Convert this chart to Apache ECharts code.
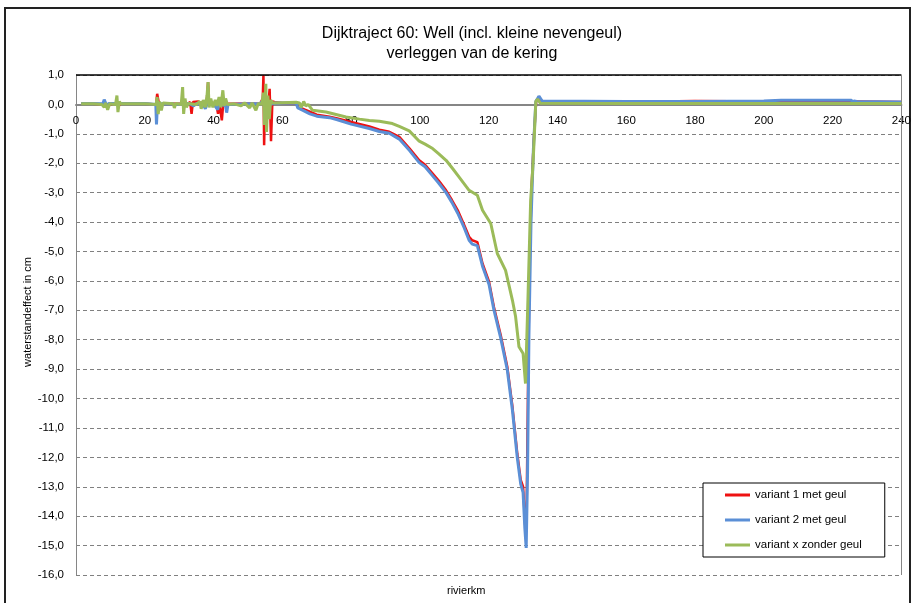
<!DOCTYPE html>
<html>
<head>
<meta charset="utf-8">
<script src="https://cdn.jsdelivr.net/npm/echarts@6/dist/echarts.min.js"></script>
<style>html,body{margin:0;padding:0;background:#fff}#c{width:914px;height:603px}</style>
</head>
<body>
<div id="c"></div>
<script>
// ---- data ----
const seriesNames = ['variant 1 met geul', 'variant 2 met geul', 'variant x zonder geul'];
const xTicks = { min: 0, max: 240, interval: 20 };
const yTicks = { min: -16, max: 1, interval: 1 };

const km1 = [1.5,4,7.8,8.3,8.8,12,12.3,13,20,23.3,23.6,24.0,24.5,25.5,30.8,31.1,31.5,32.5,33.2,33.6,34.0,35.5,36.5,37.2,38.0,38.4,38.7,40,40.8,41.3,41.7,42.1,42.4,42.8,43.2,44,50,53.5,54.3,54.5,54.7,55.0,55.5,56.0,56.3,56.7,57.1,57.7,60,64,64.5,66,68,70,73.7,76,80,85.3,88.2,91.1,94,97,99.8,101.5,103.7,105.5,107.6,109.3,111,112.9,114.3,115.2,116.7,118.2,120.1,121.5,123.5,125.4,126.9,128.3,129.3,130.0,130.6,131.0,131.4,131.8,132.4,133.2,133.8,134.6,135.5,150,170,180,200,220,227,240];
const val1 = [0.02,0.03,0.0,0.1,-0.02,0.05,-0.05,0.02,0.02,0.0,0.36,0.1,-0.05,0.03,0.02,0.15,-0.05,0.03,0.08,-0.32,0.08,0.1,0.05,0.1,0.05,0.76,0.0,0.05,0.0,-0.32,0.05,-0.3,-0.54,0.0,0.1,0.02,0.03,0.02,0.2,1.0,-1.39,0.3,-0.2,0.1,0.53,-1.25,0.1,0.08,0.05,0.05,-0.1,-0.15,-0.25,-0.35,-0.42,-0.48,-0.6,-0.75,-0.86,-0.93,-1.1,-1.5,-1.9,-2.05,-2.35,-2.6,-2.92,-3.25,-3.6,-4.11,-4.5,-4.62,-4.68,-5.41,-6.03,-6.88,-7.85,-8.92,-10.28,-11.87,-12.77,-13.0,-14.3,-14.0,-10.0,-6.0,-3.0,-1.0,0.1,0.25,0.1,0.1,0.1,0.12,0.1,0.1,0.1,0.08];

const km2 = [1.5,4,7.8,8.2,8.6,9.0,9.5,20,23.2,23.4,23.7,24.5,28.2,28.5,28.8,33,34.2,35,37,37.6,38.2,40,41.2,41.6,43.5,43.8,44.2,50,53.5,54.5,55,55.6,56.5,58,64,64.5,66,68,70,73.7,76,80,85.3,88.2,91.1,94,97,99.8,101.5,103.7,105.5,107.6,109.3,111,112.9,114.3,115.2,116.7,118.2,120.1,121.5,123.5,125.4,126.9,128.3,129.3,130.0,130.5,130.9,131.3,131.7,132.3,133.0,133.7,134.6,135.5,160,180,200,205,220,225.5,225.8,226.2,227,240];
const val2 = [0.03,0.03,0.02,0.16,0.05,-0.08,0.03,0.03,0.0,-0.68,0.05,0.02,0.02,0.08,0.0,0.03,-0.05,0.03,0.0,-0.15,0.05,0.02,-0.18,0.02,-0.05,-0.28,0.0,0.02,0.02,0.15,-0.3,0.1,0.0,0.05,0.05,-0.12,-0.2,-0.32,-0.4,-0.45,-0.52,-0.67,-0.82,-0.92,-0.98,-1.18,-1.57,-1.98,-2.12,-2.43,-2.68,-3.0,-3.33,-3.7,-4.2,-4.62,-4.75,-4.8,-5.5,-6.12,-6.98,-7.95,-9.02,-10.4,-12.0,-12.9,-13.2,-14.4,-15.08,-12.5,-7.8,-4.0,-1.5,0.1,0.28,0.12,0.1,0.1,0.12,0.14,0.14,0.14,0.05,0.12,0.1,0.08];

const km3 = [1.5,5,7.5,8.2,8.6,9.2,9.8,11.5,11.9,12.2,12.6,13,20,23.3,23.6,23.9,24.3,24.8,25.3,28.3,28.6,29,30.6,31,31.3,31.7,32.1,32.6,35,36,36.4,37,37.6,38.1,38.4,38.7,39.2,39.8,40.5,41,41.6,42.1,42.7,43.1,43.5,44,46,48,49,50.5,51.2,52.3,53,54,54.5,54.8,55.2,55.4,55.8,56.2,56.6,57.2,60,64,65,65.5,66.2,66.8,67.5,68.8,72.7,78.5,82.4,85.3,88.2,92,94,96.9,99.8,101.5,103.7,105.5,107.6,109.5,111.4,114.3,116.7,118.2,120.6,122.5,124.9,126.9,127.8,128.8,130.0,130.7,131.4,132.2,132.9,133.7,134.2,135,160,180,200,220,240];
const val3 = [0.02,0.02,0.0,-0.1,0.05,-0.18,0.02,0.0,0.3,-0.26,0.1,0.02,0.02,0.0,0.25,-0.33,0.1,-0.2,0.05,0.02,-0.12,0.03,0.0,0.59,-0.32,0.2,-0.1,0.03,0.0,0.1,-0.15,0.15,-0.1,0.3,0.76,-0.1,0.2,-0.1,0.15,-0.05,0.25,-0.1,0.48,-0.05,0.2,0.0,0.02,-0.05,0.05,-0.12,0.05,-0.2,0.03,0.0,0.4,-0.7,0.7,-0.94,0.3,-0.5,0.15,0.05,0.06,0.07,0.05,-0.1,0.1,-0.05,0.0,-0.2,-0.26,-0.43,-0.5,-0.55,-0.57,-0.65,-0.75,-0.9,-1.25,-1.35,-1.5,-1.68,-1.9,-2.18,-2.47,-2.92,-3.09,-3.6,-4.05,-5.07,-5.64,-6.66,-7.2,-8.24,-8.47,-9.49,-6.66,-3.26,-2.0,0.1,0.18,0.04,0.03,0.03,0.03,0.03,0.03];

const colors = ['#ee1111', '#5b8fd6', '#9bbb59'];

function pairs(xs, ys) { return xs.map((x, i) => [x, ys[i]]); }
const FONT = '"Liberation Sans", Arial, sans-serif';

// grid geometry
const GRID = { left: 76, right: 11, top: 75, bottom: 28 };
const plotH = 603 - GRID.top - GRID.bottom;
// shift the x axis (line + labels) from the bottom edge up to the value 0
const xAxisOffset = -plotH * (0 - yTicks.min) / (yTicks.max - yTicks.min);

const chart = echarts.init(document.getElementById('c'), null, { renderer: 'canvas' });
chart.setOption({
  animation: false,
  backgroundColor: '#fff',
  color: colors,
  textStyle: { fontFamily: FONT, color: '#000' },
  title: {
    text: 'Dijktraject 60: Well (incl. kleine nevengeul)\nverleggen van de kering',
    left: 467, top: 19, textAlign: 'center',
    textStyle: { fontFamily: FONT, fontSize: 16, fontWeight: 'normal', color: '#000', lineHeight: 20 }
  },
  legend: {
    orient: 'vertical', left: 703, top: 483,
    padding: [5, 23, 5, 22], itemGap: 11,
    itemWidth: 25, itemHeight: 3, icon: 'rect',
    backgroundColor: '#fff', borderColor: '#000', borderWidth: 1,
    textStyle: { fontFamily: FONT, fontSize: 11.5, color: '#000', lineHeight: 14 },
    data: seriesNames
  },
  grid: { left: GRID.left, right: GRID.right, top: GRID.top, bottom: GRID.bottom, containLabel: false },
  xAxis: {
    type: 'value', min: xTicks.min, max: xTicks.max, interval: xTicks.interval,
    position: 'bottom', offset: xAxisOffset,
    axisLine: { onZero: false, lineStyle: { color: '#868686', width: 2 } },
    axisTick: { show: false },
    axisLabel: { margin: 10, fontSize: 11.5, color: '#000', fontFamily: FONT },
    splitLine: { show: false }
  },
  yAxis: {
    type: 'value', min: yTicks.min, max: yTicks.max, interval: yTicks.interval,
    name: 'waterstandeffect in cm', nameLocation: 'middle', nameGap: 43, nameRotate: 90,
    nameMoveOverlap: false,
    nameTextStyle: { fontSize: 11, color: '#000', fontFamily: FONT, padding: [0, 0, 0, 26] },
    axisLine: { show: true, onZero: false, lineStyle: { color: '#868686', width: 1 } },
    axisTick: { show: false },
    axisLabel: { margin: 12, fontSize: 11.5, color: '#000', fontFamily: FONT,
      formatter: v => v.toFixed(1).replace('.', ',') },
    splitLine: { show: true, lineStyle: { color: '#808080', type: [4, 3], width: 1 } }
  },
  graphic: [
    { type: 'rect', shape: { x: 5, y: 8, width: 905, height: 640 },
      style: { fill: null, stroke: '#222', lineWidth: 2 }, silent: true, z: -1 },
    { type: 'text', left: 447, top: 585,
      style: { text: 'rivierkm', font: '11px ' + FONT, fill: '#000' } }
  ],
  series: [
    { name: seriesNames[0], type: 'line', data: pairs(km1, val1), showSymbol: false,
      lineStyle: { width: 2.5, color: colors[0] }, z: 3,
      markLine: { silent: true, symbol: 'none', label: { show: false },
        data: [
          { yAxis: yTicks.max, lineStyle: { color: '#000', type: 'solid', width: 1.5 } },
          { xAxis: xTicks.max, lineStyle: { color: '#868686', type: 'solid', width: 1 } }
        ] } },
    { name: seriesNames[1], type: 'line', data: pairs(km2, val2), showSymbol: false,
      lineStyle: { width: 3, color: colors[1] }, z: 4 },
    { name: seriesNames[2], type: 'line', data: pairs(km3, val3), showSymbol: false,
      lineStyle: { width: 3, color: colors[2] }, z: 5 }
  ]
});
</script>
</body>
</html>
